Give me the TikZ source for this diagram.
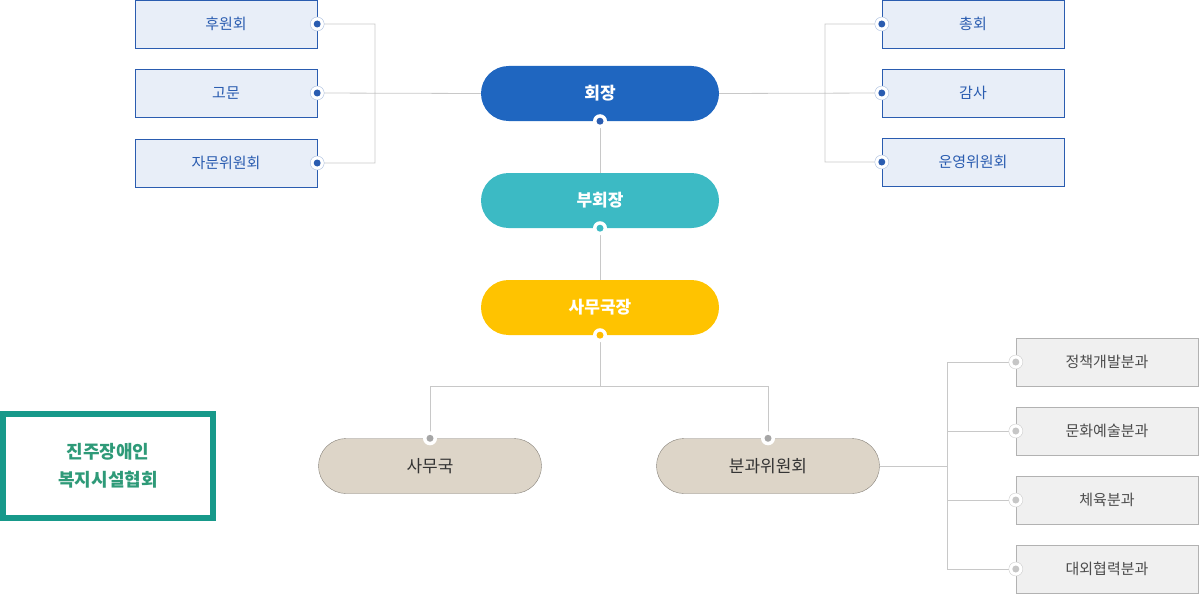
\documentclass[tikz,border=0pt]{standalone}
\usepackage{fontspec}
\setmainfont{Noto Sans CJK KR}
\usetikzlibrary{positioning}
\definecolor{chairblue}{HTML}{1F66C0}
\definecolor{viceteal}{HTML}{3CBAC4}
\definecolor{secyellow}{HTML}{FFC300}
\definecolor{boxblue}{HTML}{E8EEF8}
\definecolor{edgeblue}{HTML}{2A5CB0}
\definecolor{beige}{HTML}{DDD5C8}
\definecolor{greybox}{HTML}{F0F0F0}
\definecolor{linegrey}{HTML}{C8C8C8}
\definecolor{logogreen}{HTML}{2E9A78}
\definecolor{logoframe}{HTML}{17998A}
\begin{document}
\begin{tikzpicture}[x=1pt,y=-1pt,
    pill/.style={rounded corners=27.5pt,minimum width=238pt,minimum height=55pt,inner sep=0pt,text=white,font=\fontsize{17}{19}\selectfont\bfseries},
    sidebox/.style={draw=edgeblue,fill=boxblue,minimum width=182pt,minimum height=48pt,inner sep=0pt,text=edgeblue,font=\fontsize{15}{17}\selectfont},
    subbox/.style={draw=gray!60,fill=greybox,minimum width=182pt,minimum height=48pt,inner sep=0pt,text=black!70,font=\fontsize{15}{17}\selectfont},
    unit/.style={draw=beige!60!black,fill=beige,rounded corners=27.5pt,minimum width=223pt,minimum height=55pt,inner sep=0pt,text=black!80,font=\fontsize{17}{19}\selectfont},
    link/.style={draw=linegrey,line width=0.8pt}]
    \useasboundingbox (0,0) rectangle (1200,594);

    % top of the chart
    \node[pill,fill=chairblue] (chair) at (600,93.5) {회장};
    \node[pill,fill=viceteal] (vice) at (600,200.5) {부회장};
    \node[pill,fill=secyellow] (sec) at (600,307.5) {사무국장};

    % advisory boxes
    \node[sidebox] (support) at (226,24) {후원회};
    \node[sidebox] (advisor) at (226,93) {고문};
    \node[sidebox] (council) at (226,163) {자문위원회};
    \node[sidebox] (general) at (973,24) {총회};
    \node[sidebox] (audit) at (973,93) {감사};
    \node[sidebox] (steering) at (973,162) {운영위원회};

    % units
    \node[unit] (office) at (430,466) {사무국};
    \node[unit] (comm) at (768,466) {분과위원회};
    \node[subbox] (policy) at (1107,362) {정책개발분과};
    \node[subbox] (culture) at (1107,431) {문화예술분과};
    \node[subbox] (sports) at (1107,500) {체육분과};
    \node[subbox] (relations) at (1107,569) {대외협력분과};

    % logo
    \draw[draw=logoframe,line width=6pt,fill=white] (3,414) rectangle (213,518);
    \node[text=logogreen,align=center,font=\fontsize{18}{28}\selectfont\bfseries] (logo) at (108,466) {진주장애인\\복지시설협회};

    % connectors
    \coordinate (lb) at (375,93);
    \coordinate (rb) at (825,93);
    \draw[link] (support.east) -| (lb) (council.east) -| (lb) (advisor.east) -- (chair.west);
    \draw[link] (general.west) -| (rb) (steering.west) -| (rb) (audit.west) -- (chair.east);
    \draw[link] (chair.south) -- (vice.north) (vice.south) -- (sec.north);
    \coordinate (fork) at (600,386);
    \draw[link] (sec.south) -- (fork) -| (office.north) (fork) -| (comm.north);
    \coordinate (cb) at (947,466);
    \draw[link] (comm.east) -- (cb);
    \foreach \n in {policy,culture,sports,relations}
        \draw[link] (\n.west) -| (cb);

    % dots
    \foreach \n in {support,advisor,council}
        \draw[fill=white,draw=edgeblue!40] (\n.east) circle (7pt) node[circle,fill=edgeblue,inner sep=0pt,minimum size=7pt] {};
    \foreach \n in {general,audit,steering}
        \draw[fill=white,draw=edgeblue!40] (\n.west) circle (7pt) node[circle,fill=edgeblue,inner sep=0pt,minimum size=7pt] {};
    \foreach \n/\c in {chair/edgeblue,vice/viceteal,sec/secyellow!90!orange}
        \fill[white] (\n.south) circle (7pt) node[circle,fill=\c,inner sep=0pt,minimum size=7pt] {};
    \foreach \n in {office,comm}
        \fill[white] (\n.north) circle (7pt) node[circle,fill=gray!70,inner sep=0pt,minimum size=7pt] {};
    \foreach \n in {policy,culture,sports,relations}
        \draw[fill=white,draw=gray!40] (\n.west) circle (7pt) node[circle,fill=gray!45,inner sep=0pt,minimum size=7pt] {};
\end{tikzpicture}
\end{document}
